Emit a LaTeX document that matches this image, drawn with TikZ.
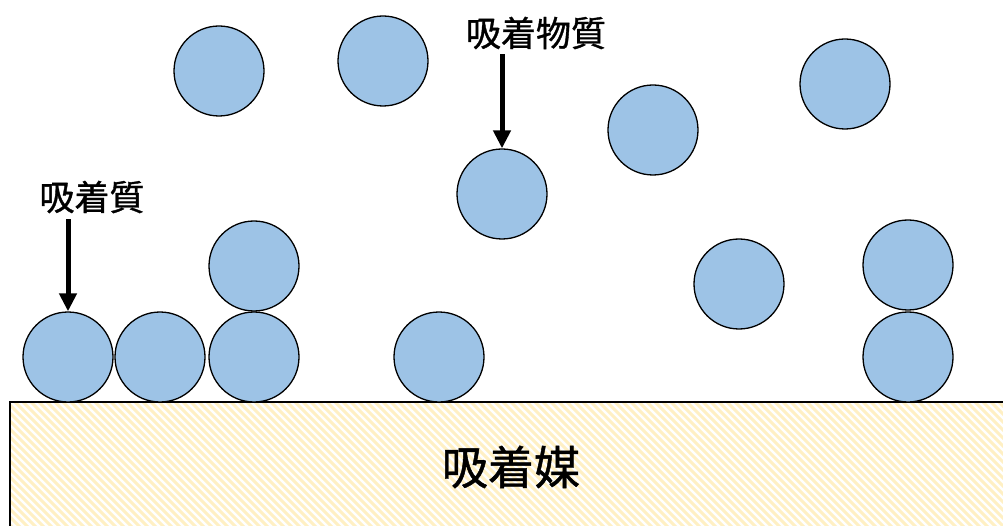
\documentclass[tikz,border=0pt]{standalone}
\usepackage{fontspec}
\newfontfamily\cjk{Noto Sans CJK JP}[UprightFont=*,BoldFont=*,BoldFeatures={FakeBold=1}]
\usetikzlibrary{arrows.meta}
\definecolor{ball}{HTML}{9DC3E6}
\definecolor{stripe}{HTML}{FFF0C4}
\tikzset{
  ball/.style={circle,draw=black,line width=1.3pt,fill=ball,minimum size=90pt,inner sep=0pt},
  lbl/.style={font=\cjk\bfseries\fontsize{35}{38}\selectfont,inner sep=2pt},
  arr/.style={line width=5pt,-{Triangle[width=17pt,length=18pt]}}
}
\begin{document}
\begin{tikzpicture}[x=1pt,y=-1pt]
\useasboundingbox (0,0) rectangle (1003,526);
% adsorbent
\begin{scope}
\clip (10,402) rectangle (1010,530);
\foreach \a in {-200,-192,...,1010}{
  \draw[stripe,line width=3pt] (\a,395) -- (\a+140,535);
}
\end{scope}
\draw[line width=1.3pt] (10,530) -- (10,402) -- (1010,402);
\node[font=\cjk\bfseries\fontsize{46}{50}\selectfont] (sorb) at (511,467) {吸着媒};
% balls
\node[ball] (t1) at (219,71) {};
\node[ball] (t2) at (383,61) {};
\node[ball] (t3) at (845,84) {};
\node[ball] (t4) at (653,130) {};
\node[ball] (t5) at (502,194) {};
\node[ball] (t6) at (739,284) {};
\node[ball] (s1) at (254,266) {};
\node[ball] (s2) at (908,265) {};
\node[ball] (b1) at (68,357) {};
\node[ball] (b2) at (160,357) {};
\node[ball] (b3) at (254,357) {};
\node[ball] (b4) at (439,357) {};
\node[ball] (b5) at (908,357) {};
% labels
\node[lbl] (l1) at (536,33) {吸着物質};
\node[lbl] (l2) at (92,197) {吸着質};
\path (l1.south -| t5.north) ++(0,3) coordinate (a1s);
\draw[arr] (a1s) -- (t5.north);
\path (l2.south -| b1.north) ++(0,4) coordinate (a2s);
\draw[arr] (a2s) -- (b1.north);
\end{tikzpicture}
\end{document}
